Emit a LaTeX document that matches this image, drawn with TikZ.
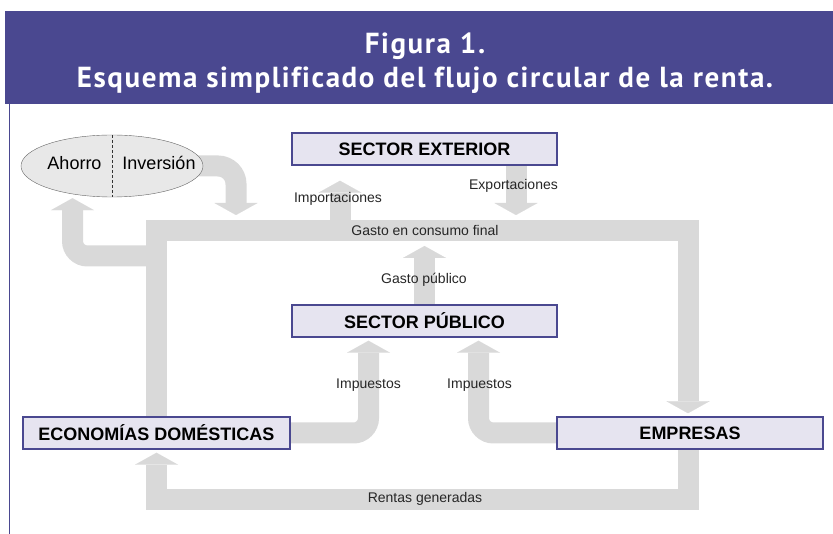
\documentclass[tikz,border=0pt]{standalone}
\usepackage{fontspec}
\setmainfont{Liberation Sans}
\newfontfamily\titlefont[LetterSpace=5.5,Ligatures=NoCommon]{PT Sans}
\usepackage{tikz}
\usetikzlibrary{arrows.meta}
\usetikzlibrary{shapes.geometric}
\usetikzlibrary{backgrounds}

\definecolor{banner}{HTML}{4A4890}
\definecolor{boxfill}{HTML}{E6E4F0}
\definecolor{bandgray}{HTML}{D9D9D9}
\definecolor{ovalfill}{HTML}{E8E8E8}

\tikzset{
  sector/.style={draw=banner,line width=1.5pt,fill=boxfill,minimum height=32pt,inner sep=0pt,font=\bfseries\fontsize{18}{20}\selectfont},
  band/.style={bandgray,line width=21pt,-{Triangle[length=12pt,width=43pt,line width=0.01pt]}},
  flowlabel/.style={font=\fontsize{14}{16}\selectfont,text=black!85,inner sep=0pt},
}

\begin{document}
\begin{tikzpicture}[x=1pt,y=-1pt]
        \useasboundingbox (0,0) rectangle (833,534);
        \fill[banner] (5,11) rectangle (833,104);
        \draw[banner,line width=1pt] (9,104) -- (9,534);
        \node[text=white,align=center,font=\titlefont\bfseries\fontsize{29}{34}\selectfont] (title) at (425,63) {Figura 1.\\Esquema simplificado del flujo circular de la renta.};

        \node [sector] (ext) at (424.5,149) [minimum width=265pt] {SECTOR EXTERIOR};
        \node [sector] (pub) at (424.5,321) [minimum width=265pt] {SECTOR PÚBLICO};
        \node [sector] (eco) at (156.5,433) [minimum width=267pt] {ECONOMÍAS DOMÉSTICAS};
        \node [sector] (emp) at (690,433) [minimum width=266pt] {EMPRESAS};
        \node [ellipse,draw=black!60,fill=ovalfill] (ahi) at (112,166) [minimum width=182pt,minimum height=62pt,inner sep=0pt] {};
        \draw[black!80,dash pattern=on 3pt off 2pt] (ahi.north) -- (ahi.south);
        \node [font=\fontsize{18}{20}\selectfont] (ahorro) at (74.5,163) {Ahorro};
        \node [font=\fontsize{18}{20}\selectfont] (inversion) at (159,163) {Inversión};

        \coordinate (tl) at (156.5,230.5);% corners of the big loop
        \coordinate (tr) at (688,230.5);
        \coordinate (bl) at (156.5,499.5);
        \coordinate (br) at (688,499.5);
        \coordinate (imp) at (340,230.5);
        \coordinate (exp) at (516,219);
        \coordinate (inv) at (236,219);

        \begin{scope}[on background layer]
        \draw[band,shorten >=3pt] (eco.north) -- (tl) -- (tr) -- (tr |- emp.north);
        \draw[band,shorten >=3pt] (br |- emp.south) -- (br) -- (bl) -- (eco.south);
        \draw[band,rounded corners=15pt,shorten >=1pt] (tl |- 0,256) -| (ahi.south -| 72.5,0);
        \draw[band,rounded corners=18pt,shorten >=4pt] ([xshift=-15pt]ahi.east) -| (inv);
        \draw[band,shorten >=15pt] (imp) -- (imp |- ext.south);
        \draw[band,shorten >=4pt] (exp |- ext.south) -- (exp);
        \draw[band,shorten >=4pt] (pub.north) -- (pub.north |- 0,242);
        \draw[band,rounded corners=15pt,shorten >=3pt] ([xshift=-5pt]eco.east) -| (pub.south -| 368.5,0);
        \draw[band,rounded corners=15pt,shorten >=3pt] ([xshift=5pt]emp.west) -| (pub.south -| 478.5,0);
        \end{scope}

        \node [flowlabel] (limp) at (338,199) {Importaciones};
        \node [flowlabel] (lexp) at (513.5,186) {Exportaciones};
        \node [flowlabel] (lgasto) at (425,230) {Gasto en consumo final};
        \node [flowlabel] (lpub) at (424,280) {Gasto público};
        \node [flowlabel] (limpa) at (368.5,385) {Impuestos};
        \node [flowlabel] (limpb) at (479.5,385) {Impuestos};
        \node [flowlabel] (lrentas) at (425,499) {Rentas generadas};
\end{tikzpicture}
\end{document}
